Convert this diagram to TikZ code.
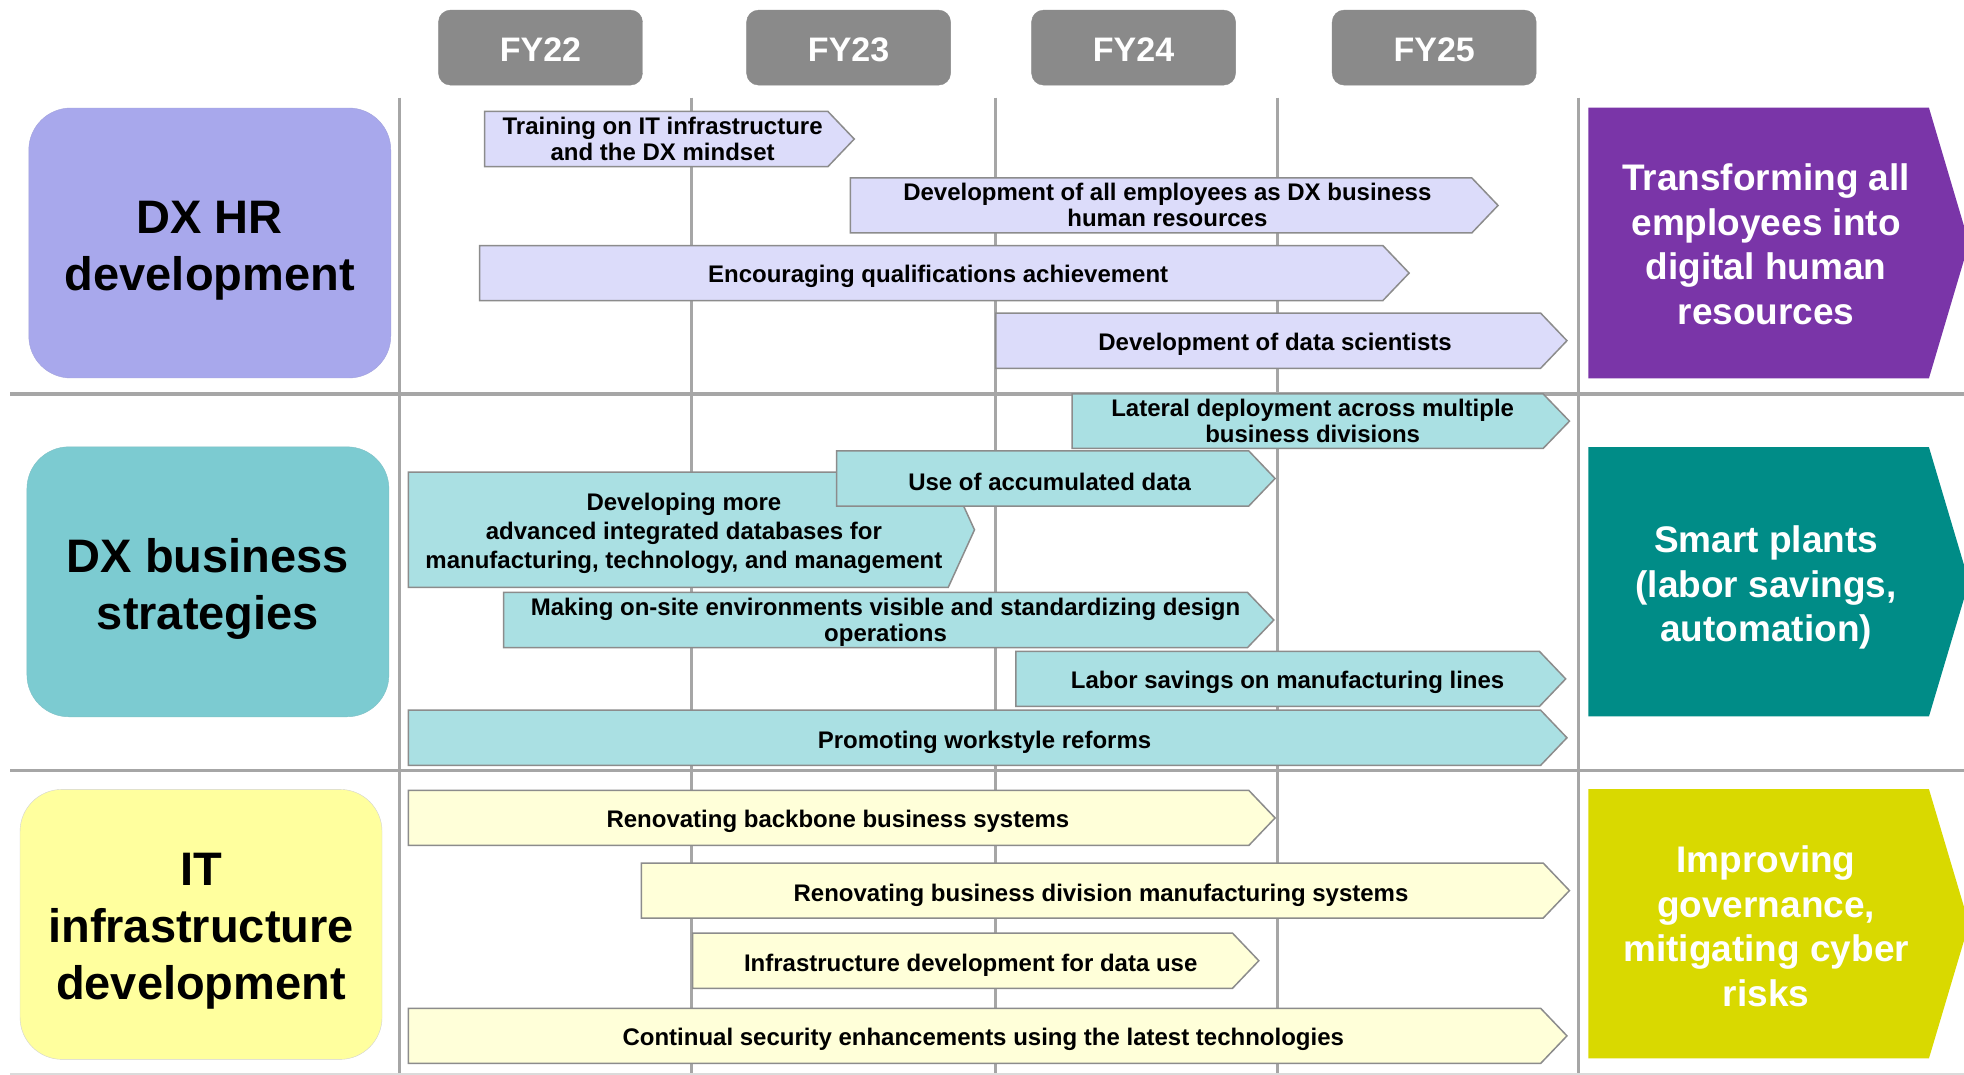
\documentclass[tikz,border=0pt]{standalone}
\usepackage{fontspec}
\setmainfont{Liberation Sans}

\definecolor{yeargray}{RGB}{138,138,138}
\definecolor{gridgray}{RGB}{166,166,166}
\definecolor{edgegray}{RGB}{140,140,140}
\definecolor{hrcat}{RGB}{168,168,236}
\definecolor{hrbar}{RGB}{220,220,250}
\definecolor{bizcat}{RGB}{124,203,209}
\definecolor{bizbar}{RGB}{170,224,227}
\definecolor{itcat}{RGB}{255,255,158}
\definecolor{itbar}{RGB}{255,255,217}
\definecolor{goalpurple}{RGB}{122,53,168}
\definecolor{goalteal}{RGB}{0,140,135}
\definecolor{goallime}{RGB}{217,217,0}

% task bar with a pointed right end: left, tip, top, bottom, fill
\newcommand\chev[5]{%
  \draw[barstyle, fill=#5] (#1,#3) -- ({#2-21},#3) -- (#2,{(#3+#4)/2})
    -- ({#2-21},#4) -- (#1,#4) -- cycle;}
% goal pentagon: top, bottom, fill
\newcommand\goalshape[3]{%
  \fill[#3] (1268,#1) -- (1540,#1) -- (1572,{(#1+#2)/2}) -- (1540,#2)
    -- (1268,#2) -- cycle;}

\begin{document}
\begin{tikzpicture}[x=1.2526pt,y=-1.2526pt,
  yearbox/.style={fill=yeargray, draw=yeargray, rounded corners=12pt,
    minimum width=204pt, minimum height=75pt, inner sep=0pt, text=white,
    font=\fontsize{34}{40}\selectfont\bfseries},
  catbox/.style={rounded corners=42pt, minimum width=362pt,
    minimum height=270pt, inner sep=0pt, align=center,
    font=\fontsize{47}{57}\selectfont\bfseries},
  cattext/.style={align=center, inner sep=0pt,
    font=\fontsize{47}{57}\selectfont\bfseries},
  goaltext/.style={text=white, align=center, inner sep=0pt,
    font=\fontsize{37}{44.5}\selectfont\bfseries},
  tasktext/.style={align=center, inner sep=0pt,
    font=\fontsize{24}{26}\selectfont\bfseries},
  barstyle/.style={draw=edgegray, line width=1.5pt, line join=miter},
  vline/.style={draw=gridgray, line width=3pt},
  hline/.style={draw=gridgray, line width=3.5pt}]

\useasboundingbox (0,0) rectangle (1568,858);
\fill[white] (0,0) rectangle (1568,858);

% grid
\foreach \gx in {319,552,795,1020,1260}
  \draw[vline] (\gx,78) -- (\gx,858);
\draw[hline] (8,314.5) -- (1568,314.5);
\draw[hline] (8,615) -- (1568,615);
\draw[draw=gridgray!40, line width=2pt] (8,857.5) -- (1568,857.5);

% fiscal years
\node[yearbox] (fy22) at (431.5,38) {};
\node[yearbox] (fy23) at (677.5,38) {};
\node[yearbox] (fy24) at (905,38) {};
\node[yearbox] (fy25) at (1145,38) {};
\foreach \fy in {22,23,24,25}
  \node[text=white, inner sep=0pt, font=\fontsize{34}{40}\selectfont\bfseries]
    (fy\fy label) at ([yshift=-2.5pt]fy\fy.center) {FY\fy};

% categories
\node[catbox, fill=hrcat, draw=hrcat!85!gray] (cathr) at (167.5,194) {};
\node[catbox, fill=bizcat, draw=bizcat!85!gray] (catbiz) at (166,464.5) {};
\node[catbox, fill=itcat, draw=gray!35] (catit) at (160.5,738) {};
\node[cattext] (cathrtext) at (167.5,200) {DX HR\\development};
\node[cattext] (catbiztext) at (166,470) {DX business\\strategies};
\node[cattext] (catittext) at (160.5,743.5) {IT\\infrastructure\\development};

% DX HR development
\chev{387}{682}{89}{133}{hrbar}
\node[tasktext] (t1) at (529,111) {Training on IT infrastructure\\and the DX mindset};
\chev{679}{1196}{142}{186}{hrbar}
\node[tasktext] (t2) at (932,164) {Development of all employees as DX business\\human resources};
\chev{383}{1125}{196}{240}{hrbar}
\node[tasktext] (t3) at (749,220.5) {Encouraging qualifications achievement};
\chev{795}{1251}{250}{294}{hrbar}
\node[tasktext] (t4) at (1018,275) {Development of data scientists};

% DX business strategies
\chev{856}{1253}{314.5}{358}{bizbar}
\node[tasktext] (t5) at (1048,336) {Lateral deployment across multiple\\business divisions};
\chev{326}{778}{377}{469}{bizbar}
\node[tasktext, font=\fontsize{24}{29}\selectfont\bfseries] (t7) at (546,426) {Developing more\\advanced integrated databases for\\manufacturing, technology, and management};
\chev{668}{1018}{360}{404}{bizbar}
\node[tasktext] (t6) at (838,384.5) {Use of accumulated data};
\chev{402}{1017}{473}{517}{bizbar}
\node[tasktext] (t8) at (707,496.5) {Making on-site environments visible and standardizing design\\operations};
\chev{811}{1250}{520}{564}{bizbar}
\node[tasktext] (t9) at (1028,545) {Labor savings on manufacturing lines};
\chev{326}{1251}{567}{611}{bizbar}
\node[tasktext] (t10) at (786,592.5) {Promoting workstyle reforms};

% IT infrastructure development
\chev{326}{1018}{631}{675}{itbar}
\node[tasktext] (t11) at (669,656) {Renovating backbone business systems};
\chev{512}{1253}{689}{733}{itbar}
\node[tasktext] (t12) at (879,714.5) {Renovating business division manufacturing systems};
\chev{553}{1005}{745}{789}{itbar}
\node[tasktext] (t13) at (775,770.5) {Infrastructure development for data use};
\chev{326}{1251}{805}{849}{itbar}
\node[tasktext] (t14) at (785,830) {Continual security enhancements using the latest technologies};

% goals
\goalshape{86}{302}{goalpurple}
\node[goaltext] (g1) at (1410,195) {Transforming all\\employees into\\digital human\\resources};
\goalshape{357}{572}{goalteal}
\node[goaltext] (g2) at (1410,469) {Smart plants\\(labor savings,\\automation)};
\goalshape{630}{845}{goallime}
\node[goaltext] (g3) at (1410,739.5) {Improving\\governance,\\mitigating cyber\\risks};

\end{tikzpicture}
\end{document}
